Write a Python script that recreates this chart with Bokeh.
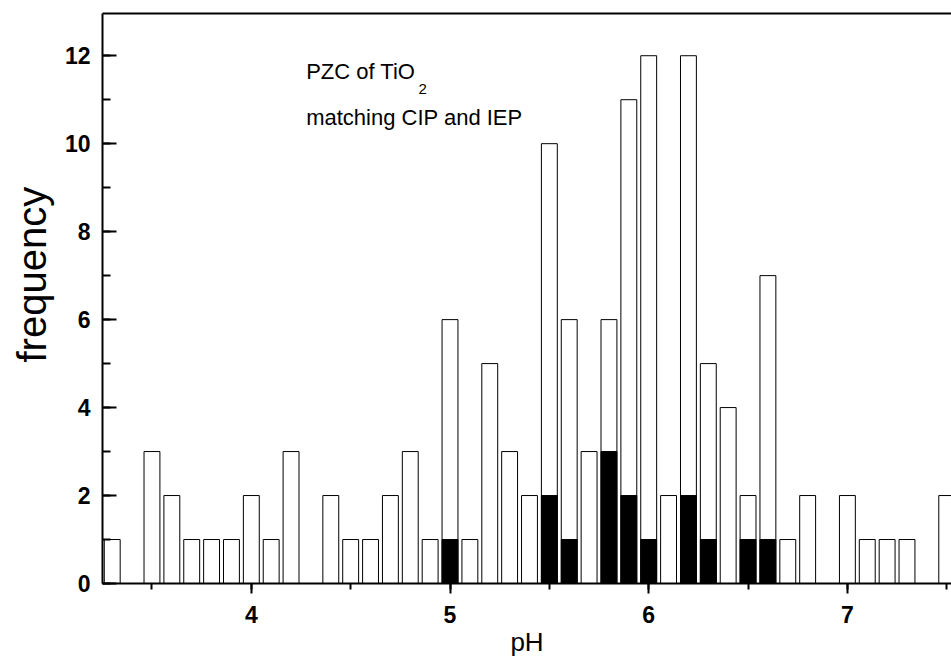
from bokeh.plotting import figure
from bokeh.models import Range1d, LinearAxis, SingleIntervalTicker, FixedTicker, Label, ColumnDataSource, Title
from bokeh.embed import file_html
from bokeh.resources import INLINE

# ---- data ----
ph_bins = [3.3, 3.5, 3.6, 3.7, 3.8, 3.9, 4.0, 4.1, 4.2, 4.4, 4.5, 4.6, 4.7, 4.8, 4.9,
           5.0, 5.1, 5.2, 5.3, 5.4, 5.5, 5.6, 5.7, 5.8, 5.9, 6.0, 6.1, 6.2, 6.3, 6.4,
           6.5, 6.6, 6.7, 6.8, 7.0, 7.1, 7.2, 7.3, 7.5]
freq_all = [1, 3, 2, 1, 1, 1, 2, 1, 3, 2, 1, 1, 2, 3, 1,
            6, 1, 5, 3, 2, 10, 6, 3, 6, 11, 12, 2, 12, 5, 4,
            2, 7, 1, 2, 2, 1, 1, 1, 2]
ph_matching = [5.0, 5.5, 5.6, 5.8, 5.9, 6.0, 6.2, 6.3, 6.5, 6.6]
freq_matching = [1, 2, 1, 3, 2, 1, 2, 1, 1, 1]

x_label = "pH"
y_label = "frequency"
note_line1 = "PZC of TiO"
note_sub = "2"
note_line2 = "matching CIP and IEP"

FONT = "Liberation Sans"

p = figure(width=951, height=659, output_backend="svg", toolbar_location=None,
           x_range=Range1d(3.251, 7.524), y_range=Range1d(0, 12.96),
           min_border_left=102, min_border_right=0, min_border_top=13, min_border_bottom=75,
           background_fill_color="white", border_fill_color="white")
p.outline_line_color = None
p.xgrid.grid_line_color = None
p.ygrid.grid_line_color = None

src_all = ColumnDataSource(dict(x=ph_bins, top=freq_all))
src_match = ColumnDataSource(dict(x=ph_matching, top=freq_matching))
p.vbar(x="x", top="top", bottom=0, width=0.08, source=src_all,
       fill_color="white", line_color="black", line_width=1)
p.vbar(x="x", top="top", bottom=0, width=0.08, source=src_match,
       fill_color="black", line_color="black", line_width=1)

# x axis
xa = p.xaxis[0]
xa.ticker = SingleIntervalTicker(interval=1, num_minor_ticks=2)
xa.axis_line_width = 2
xa.axis_line_color = "black"
xa.major_tick_in = 0
xa.major_tick_out = 10
xa.major_tick_line_width = 2
xa.major_tick_line_color = "black"
xa.minor_tick_in = 0
xa.minor_tick_out = 6
xa.minor_tick_line_width = 2
xa.minor_tick_line_color = "black"
xa.major_label_text_font = FONT
xa.major_label_text_font_style = "bold"
xa.major_label_text_font_size = "23px"
xa.major_label_text_color = "black"
xa.major_label_standoff = 12
xa.axis_label = x_label
xa.axis_label_text_font = FONT
xa.axis_label_text_font_style = "normal"
xa.axis_label_text_font_size = "26px"
xa.axis_label_text_color = "black"
xa.axis_label_standoff = 1

# y axis
ya = p.yaxis[0]
ya.ticker = SingleIntervalTicker(interval=2, num_minor_ticks=2)
ya.axis_line_width = 2
ya.axis_line_color = "black"
ya.major_tick_in = 14
ya.major_tick_out = 0
ya.major_tick_line_width = 2
ya.major_tick_line_color = "black"
ya.minor_tick_in = 8
ya.minor_tick_out = 0
ya.minor_tick_line_width = 2
ya.minor_tick_line_color = "black"
ya.major_label_text_font = FONT
ya.major_label_text_font_style = "bold"
ya.major_label_text_font_size = "23px"
ya.major_label_text_color = "black"
ya.major_label_standoff = 12

# y axis title, placed a little above centre like the original
ytitle = Title(text=y_label, align="left", offset=221, text_font=FONT,
               text_font_size="40px", text_font_style="normal", text_color="black",
               standoff=15)
p.add_layout(ytitle, "left")

# top frame line
top_axis = LinearAxis(ticker=FixedTicker(ticks=[]), axis_line_width=2, axis_line_color="black",
                      major_tick_in=0, major_tick_out=0, minor_tick_in=0, minor_tick_out=0,
                      major_label_text_font_size="0px")
p.add_layout(top_axis, "above")

# annotation
p.add_layout(Label(x=4.276, y=11.65, text=note_line1, text_font=FONT, text_font_size="22px",
                   text_color="black", text_baseline="alphabetic"))
p.add_layout(Label(x=4.842, y=11.25, text=note_sub, text_font=FONT, text_font_size="15px",
                   text_color="black", text_baseline="alphabetic"))
p.add_layout(Label(x=4.276, y=10.59, text=note_line2, text_font=FONT, text_font_size="22px",
                   text_color="black", text_baseline="alphabetic"))

open("out.html", "w").write(file_html(p, INLINE))
